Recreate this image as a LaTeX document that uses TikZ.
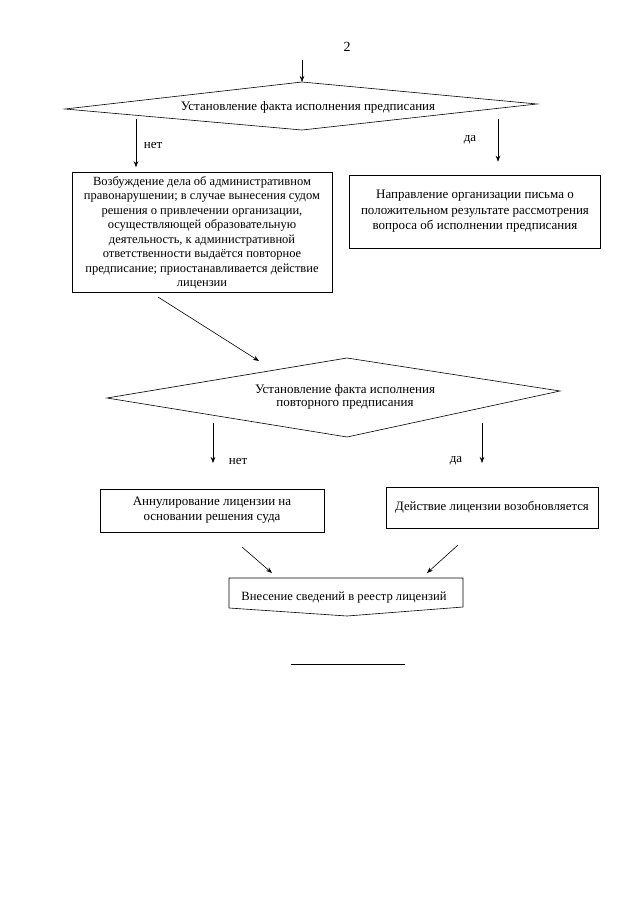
\documentclass[tikz,border=0pt]{standalone}
\usepackage{fontspec}
\setmainfont{Liberation Serif}
\usetikzlibrary{arrows.meta}
\begin{document}
\begin{tikzpicture}[x=1pt,y=-1pt,line width=0.6pt,
  arr/.style={-{Stealth[length=6pt,width=4.5pt]}},
  txt/.style={font=\fontsize{13}{14}\selectfont,align=center,inner sep=0pt},
  lbl/.style={font=\fontsize{13}{14}\selectfont,inner sep=0pt},
  box/.style={draw,txt,inner sep=0pt}]
\useasboundingbox (0,0) rectangle (640,905);

\node[txt,font=\fontsize{14}{15}\selectfont] (pg) at (347,47) {2};

% decision 1
\coordinate (d1t) at (302,82);
\coordinate (d1r) at (537,104);
\coordinate (d1b) at (302,130);
\coordinate (d1l) at (65,109);
\draw (d1t) -- (d1r) -- (d1b) -- (d1l) -- cycle;
\node[txt] (d1) at (308,107) {Установление факта исполнения предписания};
\coordinate (s0) at (302,60);
\draw[arr] (s0) -- (d1t);

% boxes
\node[box,minimum width=260,minimum height=120,font=\fontsize{12.5}{14.5}\selectfont] (b1) at (202,232.5)
 {Возбуждение дела об административном\\правонарушении; в случае вынесения судом\\решения о привлечении организации,\\осуществляющей образовательную\\деятельность, к административной\\ответственности выдаётся повторное\\предписание; приостанавливается действие\\лицензии};
\node[box,minimum width=251,minimum height=73,font=\fontsize{13}{15.5}\selectfont] (b2) at (475,211.5)
 {Направление организации письма о\\положительном результате рассмотрения\\вопроса об исполнении предписания};

\coordinate (n1s) at (136,119);
\coordinate (y1s) at (498,119);
\draw[arr,shorten >=5pt] (n1s) -- (n1s |- b1.north);
\draw[arr,shorten >=13pt] (y1s) -- (y1s |- b2.north);
\node[lbl] (n1) at (153,145) {нет};
\node[lbl] (y1) at (470,140) {да};

% decision 2
\coordinate (d2t) at (347,358);
\coordinate (d2r) at (560,391);
\coordinate (d2b) at (347,437);
\coordinate (d2l) at (107,398);
\draw (d2t) -- (d2r) -- (d2b) -- (d2l) -- cycle;
\node[txt,font=\fontsize{13}{13.5}\selectfont] (d2) at (345,397) {Установление факта исполнения\\повторного предписания};
\coordinate (b1o) at (158,297);
\coordinate (d2i) at (259,361);
\draw[arr] (b1o) -- (d2i);

\node[box,minimum width=224,minimum height=43,font=\fontsize{13}{15}\selectfont] (b3) at (212,510.5)
 {Аннулирование лицензии на\\основании решения суда};
\node[box,minimum width=212,minimum height=41,font=\fontsize{12.8}{14}\selectfont] (b4) at (492,507.5)
 {Действие лицензии возобновляется};

\coordinate (n2s) at (213,423);
\coordinate (n2e) at (213,463);
\coordinate (y2s) at (482,423);
\coordinate (y2e) at (482,463);
\draw[arr] (n2s) -- (n2e);
\draw[arr] (y2s) -- (y2e);
\node[lbl] (n2) at (238,461) {нет};
\node[lbl] (y2) at (456,461) {да};

% final off-page shape
\coordinate (p1) at (229,578);
\coordinate (p2) at (463,578);
\coordinate (p3) at (463,607);
\coordinate (p4) at (347,616);
\coordinate (p5) at (229,608);
\draw (p1) -- (p2) -- (p3) -- (p4) -- (p5) -- cycle;
\node[txt,font=\fontsize{12.6}{14}\selectfont] (p) at (344,598) {Внесение сведений в реестр лицензий};

\coordinate (b3o) at (242,547);
\coordinate (pin1) at (272,573);
\coordinate (b4o) at (458,545);
\coordinate (pin2) at (427,573);
\draw[arr] (b3o) -- (pin1);
\draw[arr] (b4o) -- (pin2);

\coordinate (l1) at (291,664);
\coordinate (l2) at (405,664);
\draw (l1) -- (l2);
\end{tikzpicture}
\end{document}
